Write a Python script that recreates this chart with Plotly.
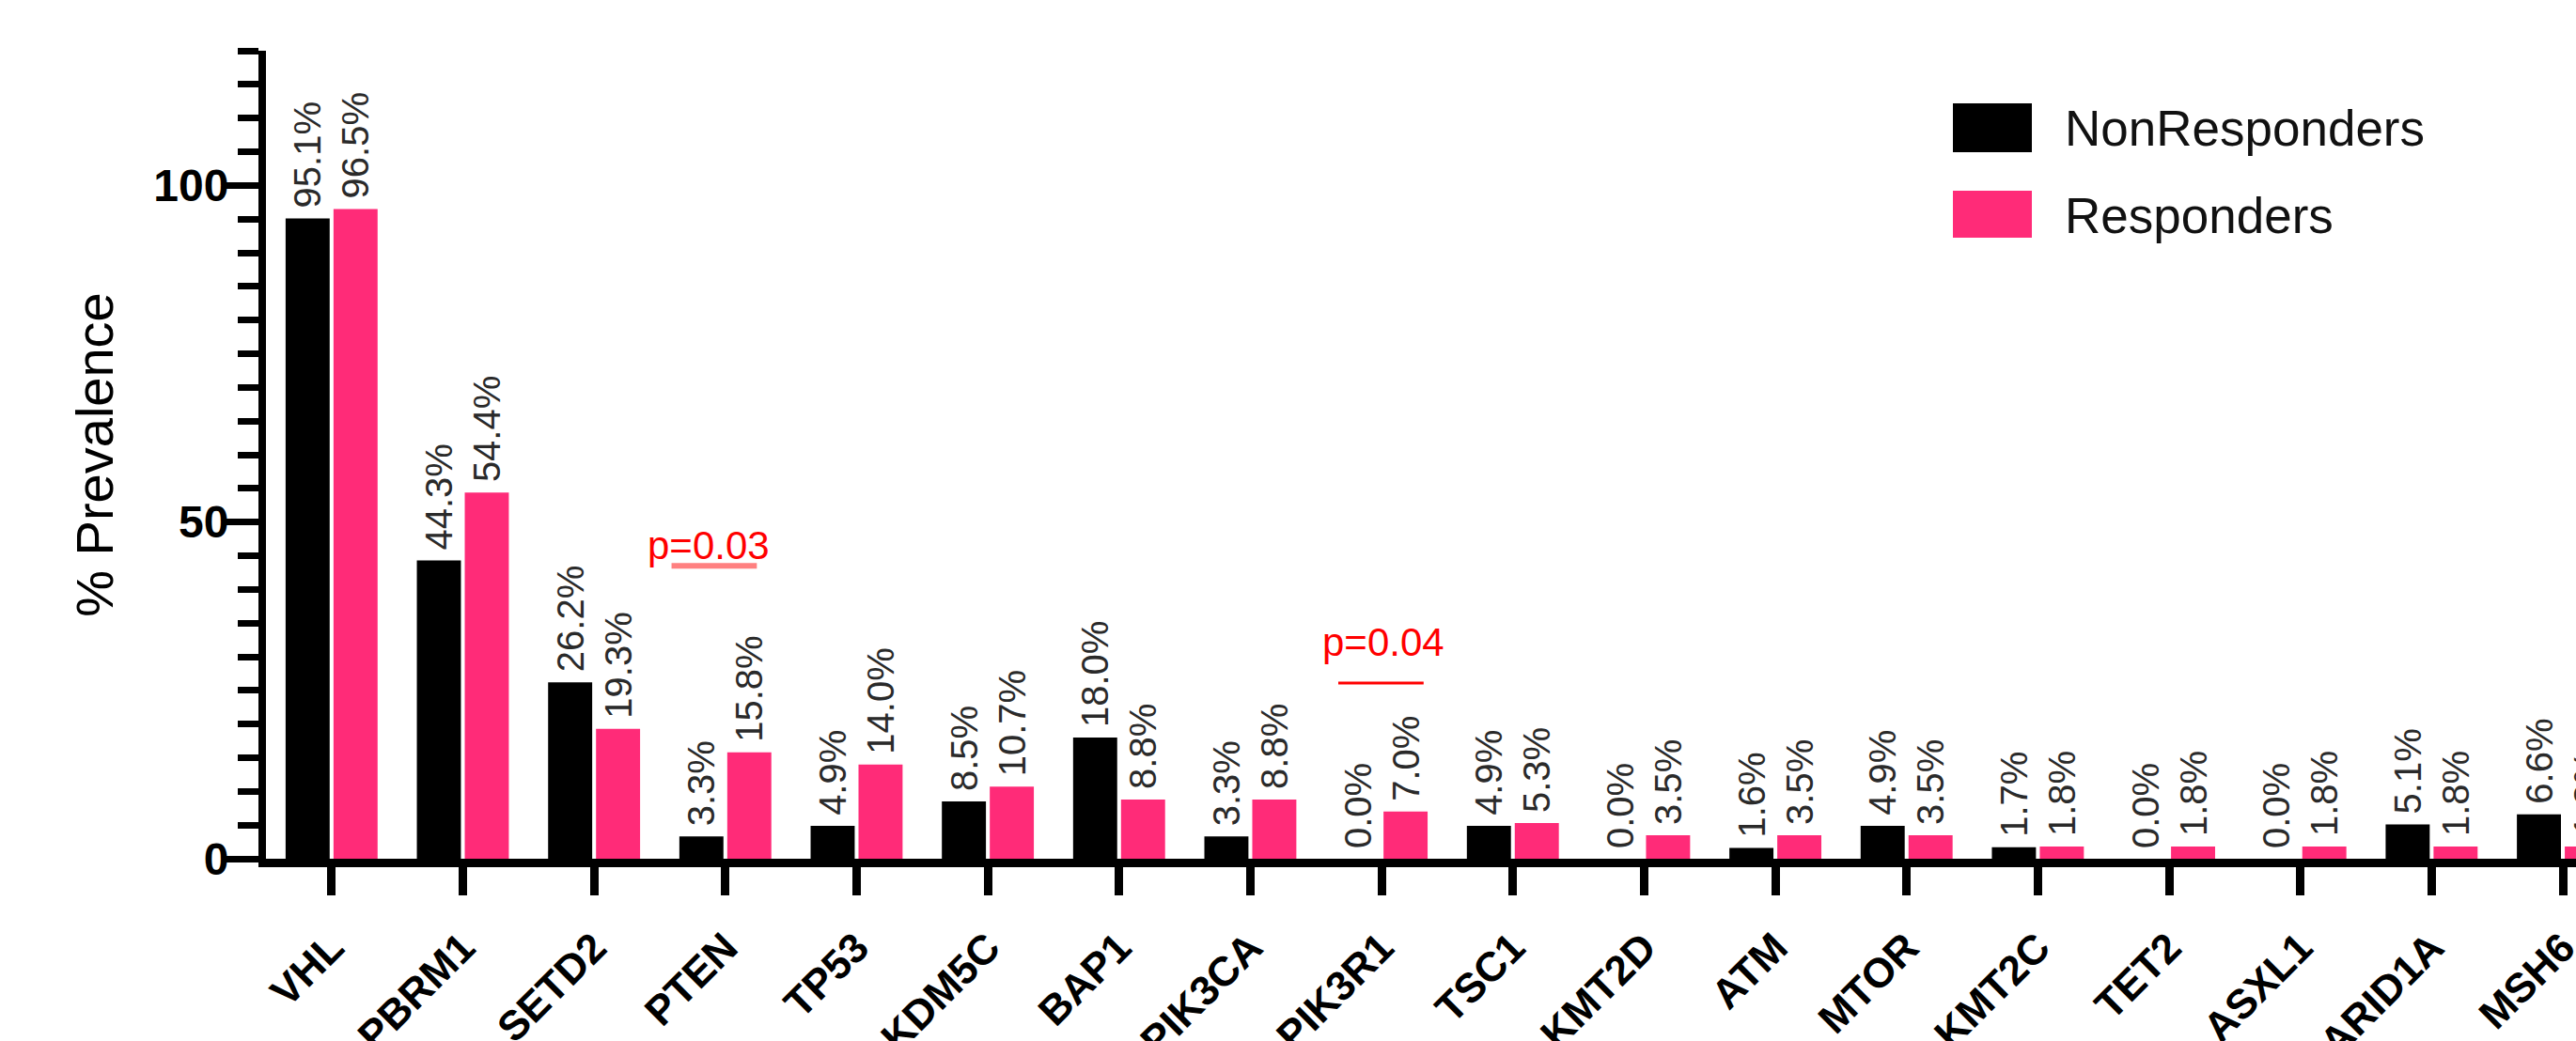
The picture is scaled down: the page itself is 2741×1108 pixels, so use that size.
import plotly.graph_objects as go

# Mutation prevalence per gene, by response group (%)
genes = ["VHL", "PBRM1", "SETD2", "PTEN", "TP53", "KDM5C", "BAP1", "PIK3CA", "PIK3R1",
         "TSC1", "KMT2D", "ATM", "MTOR", "KMT2C", "TET2", "ASXL1", "ARID1A", "MSH6"]
non_responders = [95.1, 44.3, 26.2, 3.3, 4.9, 8.5, 18.0, 3.3, 0.0,
                  4.9, 0.0, 1.6, 4.9, 1.7, 0.0, 0.0, 5.1, 6.6]
responders = [96.5, 54.4, 19.3, 15.8, 14.0, 10.7, 8.8, 8.8, 7.0,
              5.3, 3.5, 3.5, 3.5, 1.8, 1.8, 1.8, 1.8, 1.8]

# Significance marks: gene, label, label height, bar height
p_genes = ["PTEN", "PIK3R1"]
p_labels = ["p=0.03", "p=0.04"]
p_text_y = [46.6, 32.1]
p_line_y = [43.5, 26.1]

y_ticks = [0, 50, 100]

FONT = "Liberation Sans, Arial, sans-serif"
BLACK = "#000000"
PINK = "#FF2B78"

W, H = 2741, 1108
ML, MR, MT, MB = 283, 0, 54, 194
PW, PH = W - ML - MR, H - MT - MB


def px_x(px):
    return (px - ML) / PW


def px_y(py):
    return (H - MB - py) / PH


fig = go.Figure()
for name, vals, color in [("NonResponders", non_responders, BLACK),
                          ("Responders", responders, PINK)]:
    fig.add_trace(go.Bar(
        name=name, x=genes, y=vals, marker=dict(color=color, line=dict(width=0)),
        # thin space keeps the rotated value clear of the bar top
        text=[f"\u2009{v:.1f}%" for v in vals], textposition="outside", textangle=-90,
        constraintext="none",
        textfont=dict(family=FONT, size=40, color="#2a2a2a"),
        showlegend=False,
    ))

# p-value annotations above the significant genes
p_style = [dict(offset=-0.13, x0=-0.41, x1=0.24, color="#FF8080", width=6),
           dict(offset=0.01, x0=-0.33, x1=0.32, color="#FF0000", width=3)]
for g, lab, ty, ly, st in zip(p_genes, p_labels, p_text_y, p_line_y, p_style):
    i = genes.index(g)
    fig.add_annotation(x=i + st["offset"], y=ty, xref="x", yref="y", text=lab,
                       showarrow=False, xanchor="center", yanchor="middle",
                       font=dict(family=FONT, size=42, color="#FF0000"))
    fig.add_shape(type="line", xref="x", yref="y", x0=i + st["x0"], x1=i + st["x1"],
                  y0=ly, y1=ly, line=dict(color=st["color"], width=st["width"]))

# Legend drawn as boxes and labels
legend_items = [("NonResponders", BLACK, 110, 162, 136),
                ("Responders", PINK, 203, 253, 229)]
for name, color, top, bot, mid in legend_items:
    fig.add_shape(type="rect", xref="paper", yref="paper",
                  x0=px_x(2078), x1=px_x(2162), y0=px_y(bot), y1=px_y(top),
                  fillcolor=color, line=dict(width=0))
    fig.add_annotation(x=px_x(2195), y=px_y(mid), xref="paper", yref="paper",
                       text=name, showarrow=False, xanchor="left", yanchor="middle",
                       font=dict(family=FONT, size=53, color="#111111"))

fig.update_layout(
    width=W, height=H,
    margin=dict(l=ML, r=MR, t=MT, b=MB, pad=0, autoexpand=False),
    paper_bgcolor="white", plot_bgcolor="white",
    barmode="group", bargap=0.27, bargroupgap=0.08,
    showlegend=False,
    font=dict(family=FONT, color="black"),
)
fig.update_xaxes(
    type="category", range=[-0.5, 17.1], automargin=False,
    showline=True, linewidth=9, linecolor="black",
    ticks="outside", ticklen=30, tickwidth=9, tickcolor="black",
    tickangle=-45, ticklabelstandoff=12,
    tickfont=dict(family=FONT, size=44, color="black", weight="bold"),
    showgrid=False, zeroline=False,
)
fig.update_yaxes(
    range=[0, 120], automargin=False,
    tickmode="array", tickvals=y_ticks, ticktext=[str(v) for v in y_ticks],
    showline=True, linewidth=8, linecolor="black",
    ticks="outside", ticklen=36, tickwidth=7, tickcolor="black",
    minor=dict(dtick=5, tick0=0, ticks="outside", ticklen=22, tickwidth=7, tickcolor="black"),
    ticklabelstandoff=-14,
    tickfont=dict(family=FONT, size=48, color="black", weight="bold"),
    title=dict(text="% Prevalence", font=dict(family=FONT, size=56, color="black"), standoff=28),
    showgrid=False, zeroline=False,
)

fig.write_html("out.html")
